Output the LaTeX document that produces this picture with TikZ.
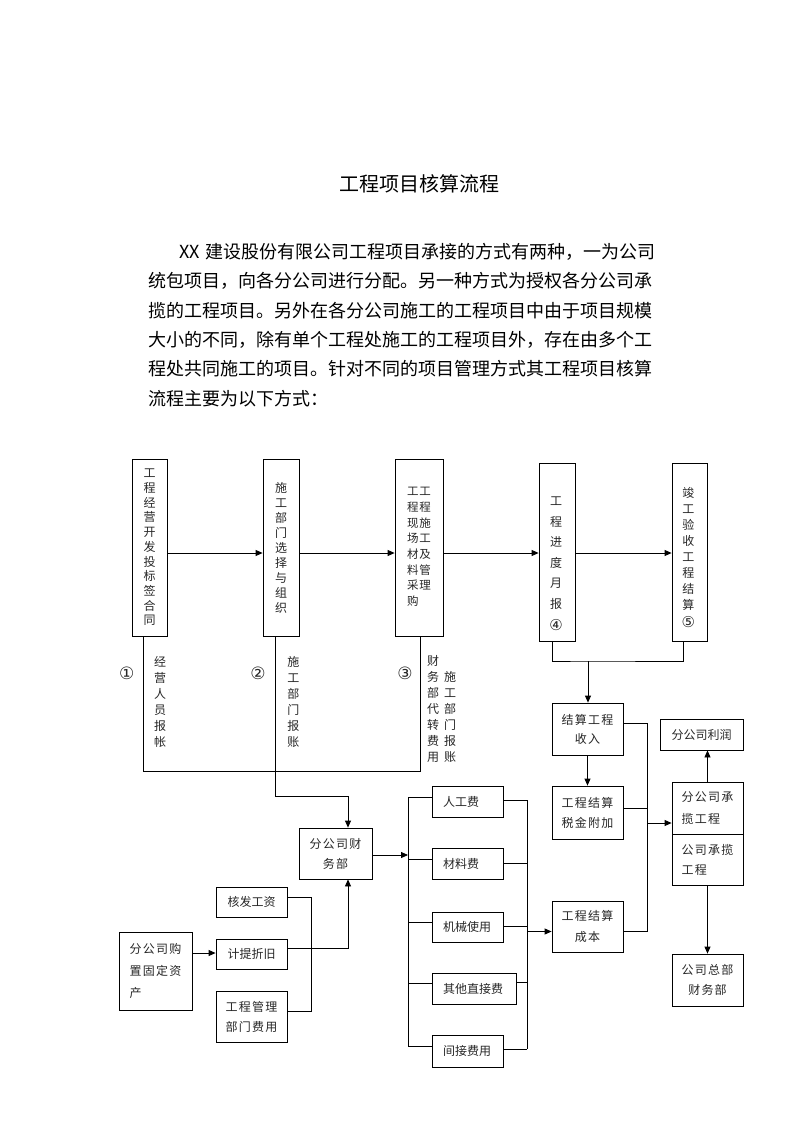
\documentclass[tikz,border=0pt]{standalone}
\usepackage{fontspec}
\setmainfont{Noto Sans CJK SC}
\newfontfamily\cjks[LetterSpace=10]{Noto Sans CJK SC}
\newfontfamily\circfont{DejaVu Sans}
\usetikzlibrary{arrows.meta}
\XeTeXlinebreaklocale "zh"
\XeTeXlinebreakskip=0pt plus 2pt minus 1pt
\tikzset{
  box/.style={draw, line width=0.8pt, inner sep=0pt, align=center, text=black!85, font=\fontsize{12}{20}\selectfont},
  sbox/.style={box, font=\cjks\fontsize{12}{20}\selectfont},
  cost/.style={draw, line width=0.8pt, inner ysep=0pt, inner xsep=11pt, align=left, text=black!85, font=\fontsize{12}{14}\selectfont},
  vtxt/.style={inner sep=0pt, align=center, text=black!85},
  circ/.style={inner sep=0pt, text=black!85, font=\circfont\fontsize{15}{16}\selectfont},
  ln/.style={line width=0.8pt},
  arr/.style={line width=0.8pt, -{Triangle[length=7pt,width=6pt]}},
  para/.style={anchor=west, inner sep=0pt, font=\fontsize{18}{20}\selectfont}
}
\begin{document}
\begin{tikzpicture}[x=1pt,y=-1pt]
\useasboundingbox (0,0) rectangle (793,1122);
% title and paragraph
\node[font=\fontsize{20}{24}\selectfont] (title) at (419,184) {工程项目核算流程};
\node[para] (t1) at (179.3,251.7) {\makebox[476pt][s]{XX 建设股份有限公司工程项目承接的方式有两种，一为公司}};
\node[para] (t2) at (148.3,281.0) {\makebox[507pt][s]{统包项目，向各分公司进行分配。另一种方式为授权各分公司承}};
\node[para] (t3) at (148.3,310.3) {\makebox[507pt][s]{揽的工程项目。另外在各分公司施工的工程项目中由于项目规模}};
\node[para] (t4) at (148.3,339.6) {\makebox[507pt][s]{大小的不同，除有单个工程处施工的工程项目外，存在由多个工}};
\node[para] (t5) at (148.3,368.9) {\makebox[507pt][s]{程处共同施工的项目。针对不同的项目管理方式其工程项目核算}};
\node[para] (t6) at (148.3,398.2) {流程主要为以下方式：};

% top row
\node[box, minimum width=35pt, minimum height=177pt, font=\fontsize{12}{14.7}\selectfont] (b1) at (149.5,547.5) {工\\程\\经\\营\\开\\发\\投\\标\\签\\合\\同};
\node[box, minimum width=36pt, minimum height=177pt, font=\fontsize{12}{15}\selectfont] (b2) at (281,547.5) {施\\工\\部\\门\\选\\择\\与\\组\\织};
\node[box, minimum width=48pt, minimum height=177pt, font=\fontsize{11.5}{15.7}\selectfont] (b3) at (419,547.5) {\begin{tabular}{@{}c@{\hspace{1pt}}c@{}}工&工\\程&程\\现&施\\场&工\\材&及\\料&管\\采&理\\购&\end{tabular}};
\node[box, minimum width=36pt, minimum height=178pt] (b4) at (557,552) {};
\node[vtxt, font=\fontsize{12}{20.5}\selectfont] (b4t) at (556,553) {工\\程\\进\\度\\月\\报};
\node[circ] (b4c) at (556,625) {④};
\node[box, minimum width=35pt, minimum height=178pt] (b5) at (689.5,552) {};
\node[vtxt, font=\fontsize{12}{16}\selectfont] (b5t) at (688.3,549.3) {竣\\工\\验\\收\\工\\程\\结\\算};
\node[circ] (b5c) at (688.3,621.7) {⑤};

\draw[arr] ([yshift=-5.5pt]b1.east) -- ([yshift=-5.5pt]b2.west);
\draw[arr] ([yshift=-5.5pt]b2.east) -- ([yshift=-5.5pt]b3.west);
\draw[arr] ([yshift=-5.5pt]b3.east) -- ([yshift=-1pt]b4.west);
\draw[arr] ([yshift=-1pt]b4.east) -- ([yshift=-1pt]b5.west);

% labels under top row
\node[circ, font=\circfont\fontsize{17}{18}\selectfont] (n1) at (126.7,673) {①};
\node[circ, font=\circfont\fontsize{17}{18}\selectfont] (n2) at (258,673) {②};
\node[circ, font=\circfont\fontsize{17}{18}\selectfont] (n3) at (405,673) {③};
\node[vtxt, font=\fontsize{12}{16}\selectfont] (l1) at (160,701.7) {经\\营\\人\\员\\报\\帐};
\node[vtxt, font=\fontsize{12}{16}\selectfont] (l2) at (293.3,701.7) {施\\工\\部\\门\\报\\账};
\node[vtxt, font=\fontsize{12}{16}\selectfont] (l3a) at (433,709) {财\\务\\部\\代\\转\\费\\用};
\node[vtxt, font=\fontsize{12}{16}\selectfont] (l3b) at (450,716.7) {施\\工\\部\\门\\报\\账};

% left/middle flow
\node[sbox, minimum width=73pt, minimum height=51pt] (f) at (335.5,853.5) {分公司财\\务部};
\coordinate (j1) at (143,771);
\coordinate (j3) at (420,771);
\coordinate (j2) at (275,796);
\draw[ln] ([xshift=-6.5pt]b1.south) -- (j1) -- (j3) -- ([xshift=1pt]b3.south);
\draw[arr] ([xshift=-6pt]b2.south) -- (j2) -| ([xshift=12.5pt]f.north);

% cost boxes
\node[cost, text width=49pt, minimum height=31pt] (c1) at (467.5,801.5) {人工费};
\node[cost, text width=49pt, minimum height=31pt] (c2) at (467.5,863.5) {材料费};
\node[cost, text width=49pt, minimum height=30pt] (c3) at (467.5,927) {机械使用};
\node[cost, text width=62pt, minimum height=31pt] (c4) at (474,988.5) {其他直接费};
\node[cost, text width=49pt, minimum height=32pt] (c5) at (467.5,1051) {间接费用};
\coordinate (cb) at (408,855);
\coordinate (lbt) at (408,797);
\coordinate (lbb) at (408,1046);
\draw[arr] ([yshift=-1.5pt]f.east) -- (cb);
\draw[ln] (lbt) -- (lbb);
\draw[ln] (lbt) -- ([yshift=4.5pt]c1.west);
\draw[ln] ([yshift=4.5pt]c2.west -| lbt) -- ([yshift=4.5pt]c2.west);
\draw[ln] ([yshift=5pt]c3.west -| lbt) -- ([yshift=5pt]c3.west);
\draw[ln] ([yshift=5.5pt]c4.west -| lbt) -- ([yshift=5.5pt]c4.west);
\draw[ln] (lbb) -- ([yshift=5pt]c5.west);
\coordinate (rbt) at (527,800);
\coordinate (rbb) at (527,1049);
\coordinate (rbm) at (527,931.5);
\draw[ln] (rbt) -- (rbb);
\draw[ln] ([yshift=1.5pt]c1.east) -- (rbt);
\draw[ln] ([yshift=0.5pt]c2.east) -- ([yshift=0.5pt]c2.east -| rbt);
\draw[ln] ([yshift=1pt]c3.east) -- ([yshift=1pt]c3.east -| rbt);
\draw[ln] ([yshift=6.5pt]c4.east) -- ([yshift=6.5pt]c4.east -| rbt);
\draw[ln] ([yshift=2pt]c5.east) -- (rbb);

% right side
\node[sbox, minimum width=71pt, minimum height=52pt, font=\cjks\fontsize{12}{19}\selectfont] (r1) at (587.5,729) {结算工程\\收入};
\node[sbox, minimum width=71pt, minimum height=53pt] (r2) at (587.5,812.5) {工程结算\\税金附加};
\node[sbox, minimum width=71pt, minimum height=51pt, font=\cjks\fontsize{12}{21.6}\selectfont] (r3) at (587.5,926.5) {工程结算\\成本};
\draw[arr] (rbm) -- (rbm -| r3.west);
\coordinate (j45) at (588,661);
\draw[ln] ([xshift=-5pt]b4.south) |- (j45) -| ([xshift=-6.5pt]b5.south);
\draw[arr] (j45) -- (j45 |- r1.north);
\draw[arr] (r1.south) -- (r2.north);
\coordinate (k1) at (647,723);
\coordinate (k2) at (647,808);
\coordinate (k3) at (647,931);
\coordinate (ka) at (647,823);
\draw[ln] ([yshift=6pt]r1.east) -- (k1) -- (k3) -- ([yshift=-4.5pt]r3.east);
\draw[ln] ([yshift=4.5pt]r2.east) -- (k2);

\node[box, minimum width=83pt, minimum height=31pt] (p0) at (701.5,734.5) {分公司利润};
\node[sbox, align=left, minimum width=71pt, minimum height=52pt, font=\cjks\fontsize{12}{22.3}\selectfont] (p1) at (707.5,808) {分公司承\\揽工程};
\node[sbox, align=left, minimum width=71pt, minimum height=51pt] (p2) at (707.5,859.5) {公司承揽\\工程};
\node[sbox, minimum width=71pt, minimum height=52pt, font=\cjks\fontsize{12}{20.7}\selectfont] (p3) at (707.5,980) {公司总部\\财务部};
\draw[arr] (ka) -- (ka -| p1.west);
\draw[arr] (p1.north) -- (p1.north |- p0.south);
\draw[arr] (p2.south) -- (p3.north);

% lower left
\node[box, minimum width=71pt, minimum height=30pt] (g1) at (251.5,902) {核发工资};
\node[box, minimum width=71pt, minimum height=30pt] (g2) at (251.5,954) {计提折旧};
\node[sbox, minimum width=71pt, minimum height=51pt] (g3) at (251.5,1016.5) {工程管理\\部门费用};
\node[sbox, align=left, minimum width=73pt, minimum height=78pt, font=\cjks\fontsize{12}{21.7}\selectfont] (a) at (155.5,971) {分公司购\\置固定资\\产};
\draw[arr] ([yshift=18pt]a.east) -- ([yshift=1pt]g2.west);
\coordinate (v1) at (311,897);
\coordinate (v2) at (311,1011);
\coordinate (v3) at (348,948);
\draw[ln] ([yshift=5pt]g1.east) -- (v1) -- (v2) -- ([yshift=5.5pt]g3.east);
\draw[arr] ([yshift=6pt]g2.east) -- (v3) -- ([xshift=12.5pt]f.south);
\end{tikzpicture}
\end{document}
